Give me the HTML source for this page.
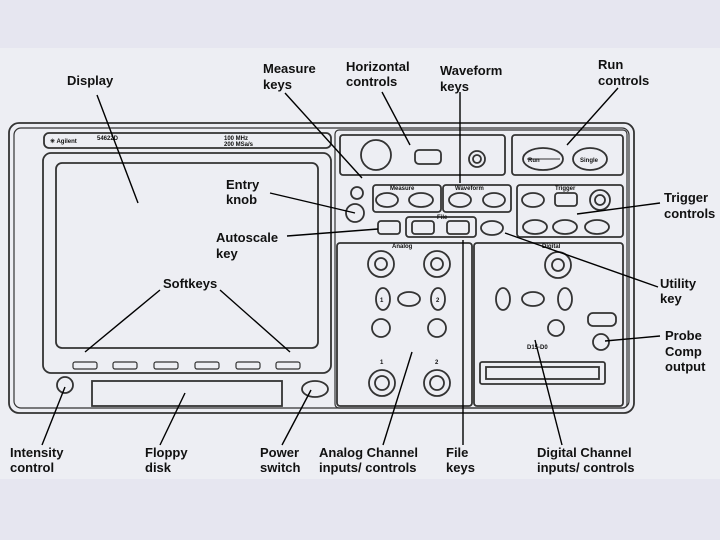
<!DOCTYPE html>
<html><head><meta charset="utf-8"><style>
html,body{margin:0;padding:0;width:720px;height:540px;overflow:hidden;background:#e6e6f0;}
svg{display:block}
text{font-family:"Liberation Sans",sans-serif;fill:#111;}
.l{font-size:13px;font-weight:bold}
.s{font-size:6px;font-weight:bold}
</style></head><body>
<svg width="720" height="540" viewBox="0 0 720 540">
<rect x="0" y="48" width="720" height="431" fill="#edeef3"/>
<g fill="none" stroke="#333" stroke-width="1.8">
<rect x="9" y="123" width="625" height="290" rx="10"/>
<rect x="14" y="128" width="615" height="280" rx="7" stroke-width="1.2"/>
<rect x="44" y="133" width="287" height="15" rx="5"/>
<rect x="43" y="153" width="288" height="220" rx="8"/>
<rect x="56" y="163" width="262" height="185" rx="6"/>
<g stroke-width="1.2">
<rect x="73" y="362" width="24" height="7" rx="2"/><rect x="113" y="362" width="24" height="7" rx="2"/>
<rect x="154" y="362" width="24" height="7" rx="2"/><rect x="195" y="362" width="24" height="7" rx="2"/>
<rect x="236" y="362" width="24" height="7" rx="2"/><rect x="276" y="362" width="24" height="7" rx="2"/>
</g>
<circle cx="65" cy="385" r="8"/>
<rect x="92" y="381" width="190" height="25"/>
<ellipse cx="315" cy="389" rx="13" ry="8"/>
<rect x="335" y="130" width="292" height="278" rx="4" stroke-width="1.2"/>
<rect x="340" y="135" width="165" height="40" rx="3"/>
<circle cx="376" cy="155" r="15"/>
<rect x="415" y="150" width="26" height="14" rx="4"/>
<circle cx="477" cy="159" r="8"/><circle cx="477" cy="159" r="4"/>
<rect x="512" y="135" width="111" height="40" rx="3"/>
<ellipse cx="543" cy="159" rx="20" ry="11"/><ellipse cx="590" cy="159" rx="17" ry="11"/>
<line x1="527" y1="159" x2="560" y2="159" stroke-width="1"/>
<rect x="373" y="185" width="68" height="27" rx="3"/>
<rect x="443" y="185" width="68" height="27" rx="3"/>
<ellipse cx="387" cy="200" rx="11" ry="7"/><ellipse cx="421" cy="200" rx="12" ry="7"/>
<ellipse cx="460" cy="200" rx="11" ry="7"/><ellipse cx="494" cy="200" rx="11" ry="7"/>
<circle cx="357" cy="193" r="6"/><circle cx="355" cy="213" r="9"/>
<rect x="517" y="185" width="106" height="52" rx="3"/>
<ellipse cx="533" cy="200" rx="11" ry="7"/><rect x="555" y="193" width="22" height="13" rx="3"/>
<circle cx="600" cy="200" r="10"/><circle cx="600" cy="200" r="5"/>
<ellipse cx="535" cy="227" rx="12" ry="7"/><ellipse cx="565" cy="227" rx="12" ry="7"/><ellipse cx="597" cy="227" rx="12" ry="7"/>
<rect x="406" y="217" width="70" height="20" rx="3"/>
<rect x="378" y="221" width="22" height="13" rx="3"/>
<rect x="412" y="221" width="22" height="13" rx="3"/><rect x="447" y="221" width="22" height="13" rx="3"/>
<ellipse cx="492" cy="228" rx="11" ry="7"/>
<rect x="337" y="243" width="135" height="163" rx="3"/>
<circle cx="381" cy="264" r="13"/><circle cx="381" cy="264" r="6"/>
<circle cx="437" cy="264" r="13"/><circle cx="437" cy="264" r="6"/>
<ellipse cx="383" cy="299" rx="7" ry="11"/><ellipse cx="409" cy="299" rx="11" ry="7"/><ellipse cx="438" cy="299" rx="7" ry="11"/>
<circle cx="381" cy="328" r="9"/><circle cx="437" cy="328" r="9"/>
<circle cx="382" cy="383" r="13"/><circle cx="382" cy="383" r="7"/>
<circle cx="437" cy="383" r="13"/><circle cx="437" cy="383" r="7"/>
<rect x="474" y="243" width="149" height="163" rx="3"/>
<circle cx="558" cy="265" r="13"/><circle cx="558" cy="265" r="6"/>
<ellipse cx="503" cy="299" rx="7" ry="11"/><ellipse cx="533" cy="299" rx="11" ry="7"/><ellipse cx="565" cy="299" rx="7" ry="11"/>
<circle cx="556" cy="328" r="8"/>
<rect x="588" y="313" width="28" height="13" rx="5"/><circle cx="601" cy="342" r="8"/>
<rect x="480" y="362" width="125" height="22" rx="2"/><rect x="486" y="367" width="113" height="12"/>
</g>
<text class="s" x="50" y="143">✳ Agilent</text><text class="s" x="97" y="140">54622D</text>
<text class="s" x="224" y="140">100 MHz</text><text class="s" x="224" y="146">200 MSa/s</text>
<text class="s" x="390" y="190">Measure</text><text class="s" x="455" y="190">Waveform</text>
<text class="s" x="555" y="190">Trigger</text><text class="s" x="437" y="219">File</text>
<text class="s" x="392" y="248">Analog</text><text class="s" x="542" y="248">Digital</text>
<text class="s" x="528" y="162" font-size="8">Run</text><text class="s" x="580" y="162" font-size="8">Single</text>
<text class="s" x="527" y="349" font-size="9">D15-D0</text>
<text class="s" x="380" y="364" font-size="8">1</text><text class="s" x="435" y="364" font-size="8">2</text>
<text class="s" x="380" y="302" font-size="8">1</text><text class="s" x="436" y="302" font-size="8">2</text>
<g stroke="#000" stroke-width="1.4">
<line x1="97" y1="95" x2="138" y2="203"/>
<line x1="285" y1="93" x2="362" y2="178"/>
<line x1="382" y1="92" x2="410" y2="145"/>
<line x1="460" y1="92" x2="460" y2="183"/>
<line x1="618" y1="88" x2="567" y2="145"/>
<line x1="270" y1="193" x2="355" y2="213"/>
<line x1="287" y1="236" x2="378" y2="229"/>
<line x1="160" y1="290" x2="85" y2="352"/>
<line x1="220" y1="290" x2="290" y2="352"/>
<line x1="660" y1="203" x2="577" y2="214"/>
<line x1="658" y1="287" x2="505" y2="233"/>
<line x1="660" y1="336" x2="605" y2="341"/>
<line x1="42" y1="445" x2="65" y2="387"/>
<line x1="160" y1="445" x2="185" y2="393"/>
<line x1="282" y1="445" x2="311" y2="390"/>
<line x1="383" y1="445" x2="412" y2="352"/>
<line x1="463" y1="445" x2="463" y2="240"/>
<line x1="562" y1="445" x2="535" y2="340"/>
</g>
<g class="l">
<text x="67" y="85">Display</text>
<text x="263" y="73">Measure</text><text x="263" y="89">keys</text>
<text x="346" y="71">Horizontal</text><text x="346" y="86">controls</text>
<text x="440" y="75">Waveform</text><text x="440" y="91">keys</text>
<text x="598" y="69">Run</text><text x="598" y="85">controls</text>
<text x="226" y="189">Entry</text><text x="226" y="204">knob</text>
<text x="216" y="242">Autoscale</text><text x="216" y="258">key</text>
<text x="163" y="288">Softkeys</text>
<text x="664" y="202">Trigger</text><text x="664" y="218">controls</text>
<text x="660" y="288">Utility</text><text x="660" y="303">key</text>
<text x="665" y="340">Probe</text><text x="665" y="356">Comp</text><text x="665" y="371">output</text>
<text x="10" y="457">Intensity</text><text x="10" y="472">control</text>
<text x="145" y="457">Floppy</text><text x="145" y="472">disk</text>
<text x="260" y="457">Power</text><text x="260" y="472">switch</text>
<text x="319" y="457">Analog Channel</text><text x="319" y="472">inputs/ controls</text>
<text x="446" y="457">File</text><text x="446" y="472">keys</text>
<text x="537" y="457">Digital Channel</text><text x="537" y="472">inputs/ controls</text>
</g>
</svg>
</body></html>
